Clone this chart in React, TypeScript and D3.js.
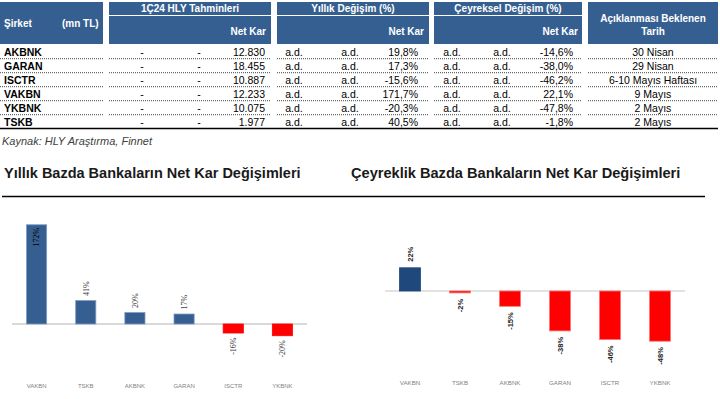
import React from "react";
import * as d3 from "d3";

const companies = ["AKBNK", "GARAN", "ISCTR", "VAKBN", "YKBNK", "TSKB"];
const hlyA = ["-", "-", "-", "-", "-", "-"];
const hlyB = ["-", "-", "-", "-", "-", "-"];
const netKar = ["12.830", "18.455", "10.887", "12.233", "10.075", "1.977"];
const yillikA = ["a.d.", "a.d.", "a.d.", "a.d.", "a.d.", "a.d."];
const yillikB = ["a.d.", "a.d.", "a.d.", "a.d.", "a.d.", "a.d."];
const yillikNet = ["19,8%", "17,3%", "-15,6%", "171,7%", "-20,3%", "40,5%"];
const ceyA = ["a.d.", "a.d.", "a.d.", "a.d.", "a.d.", "a.d."];
const ceyB = ["a.d.", "a.d.", "a.d.", "a.d.", "a.d.", "a.d."];
const ceyNet = ["-14,6%", "-38,0%", "-46,2%", "22,1%", "-47,8%", "-1,8%"];
const tarih = ["30 Nisan", "29 Nisan", "6-10 Mayıs Haftası", "9 Mayıs", "2 Mayıs", "2 Mayıs"];

const yearCats = ["VAKBN", "TSKB", "AKBNK", "GARAN", "ISCTR", "YKBNK"];
const yearVals = [171.7, 40.5, 19.8, 17.3, -15.6, -20.3];
const quarterCats = ["VAKBN", "TSKB", "AKBNK", "GARAN", "ISCTR", "YKBNK"];
const quarterVals = [22.1, -1.8, -14.6, -38.0, -46.2, -47.8];

const HEADER = "#365F91";
const SANS = "Liberation Sans, Arial, sans-serif";
const SERIF = "Liberation Serif, Times New Roman, serif";

const groups = [
  { x0: 0, x1: 103 },
  { x0: 109, x1: 271, title: "1Ç24 HLY Tahminleri" },
  { x0: 277, x1: 429, title: "Yıllık Değişim (%)" },
  { x0: 434, x1: 582, title: "Çeyreksel Değişim (%)" },
  { x0: 588, x1: 718 },
];

function Table() {
  const rowTop = 44.7;
  const rowH = 14;
  const fs = 10.5;
  const rows = companies.map((c, i) => {
    const y = rowTop + i * rowH + 11;
    return (
      <g key={c}>
        <text x={4} y={y} fontWeight="bold" fontSize={fs}>{c}</text>
        <text x={142} y={y} textAnchor="middle" fontSize={fs}>{hlyA[i]}</text>
        <text x={199} y={y} textAnchor="middle" fontSize={fs}>{hlyB[i]}</text>
        <text x={265} y={y} textAnchor="end" fontSize={fs}>{netKar[i]}</text>
        <text x={294} y={y} textAnchor="middle" fontSize={fs}>{yillikA[i]}</text>
        <text x={350} y={y} textAnchor="middle" fontSize={fs}>{yillikB[i]}</text>
        <text x={418} y={y} textAnchor="end" fontSize={fs}>{yillikNet[i]}</text>
        <text x={452} y={y} textAnchor="middle" fontSize={fs}>{ceyA[i]}</text>
        <text x={502} y={y} textAnchor="middle" fontSize={fs}>{ceyB[i]}</text>
        <text x={573} y={y} textAnchor="end" fontSize={fs}>{ceyNet[i]}</text>
        <text x={653} y={y} textAnchor="middle" fontSize={fs}>{tarih[i]}</text>
        {i < companies.length - 1 &&
          groups.map((g, k) => (
            <line key={k} x1={g.x0} x2={g.x1} y1={rowTop + (i + 1) * rowH} y2={rowTop + (i + 1) * rowH}
              stroke="#444" strokeWidth={1} strokeDasharray="1,1" />
          ))}
      </g>
    );
  });
  return (
    <g fontFamily={SANS} fill="#000">
      {groups.map((g, k) => (
        <rect key={k} x={g.x0} y={2} width={g.x1 - g.x0} height={42} fill={HEADER} />
      ))}
      {groups.filter((g) => g.title).map((g, k) => (
        <g key={k}>
          <line x1={g.x0} x2={g.x1} y1={15.5} y2={15.5} stroke="#fff" strokeWidth={1} />
          <text x={(g.x0 + g.x1) / 2} y={12} textAnchor="middle" fill="#fff" fontWeight="bold" fontSize={10}>{g.title}</text>
        </g>
      ))}
      <text x={4} y={27} fill="#fff" fontWeight="bold" fontSize={10}>Şirket</text>
      <text x={62} y={27} fill="#fff" fontWeight="bold" fontSize={10}>(mn TL)</text>
      <text x={266} y={35} textAnchor="end" fill="#fff" fontWeight="bold" fontSize={10}>Net Kar</text>
      <text x={424} y={35} textAnchor="end" fill="#fff" fontWeight="bold" fontSize={10}>Net Kar</text>
      <text x={578} y={35} textAnchor="end" fill="#fff" fontWeight="bold" fontSize={10}>Net Kar</text>
      <text x={653} y={22} textAnchor="middle" fill="#fff" fontWeight="bold" fontSize={10}>Açıklanması Beklenen</text>
      <text x={653} y={35} textAnchor="middle" fill="#fff" fontWeight="bold" fontSize={10}>Tarih</text>
      {rows}
      <line x1={0} x2={718} y1={128.5} y2={128.5} stroke="#000" strokeWidth={1.5} />
      <text x={2} y={145} fontStyle="italic" fontSize={11} fill="#404040">Kaynak: HLY Araştırma, Finnet</text>
    </g>
  );
}

type ChartProps = {
  cats: string[];
  vals: number[];
  x0: number;
  x1: number;
  y0: number;
  pxPer: number;
  padInner: number;
  posColor: string;
  posStroke: string;
  negStroke: string;
  plotTop: number;
  labelFont: string;
  labelSize: number;
  labelWeight: string;
  labelGap: number;
  labelColor: string;
  catY: number;
  catSize: number;
  baseW: number;
  fmt: (v: number) => string;
};

function BarChart(p: ChartProps) {
  const x = d3.scaleBand<string>().domain(p.cats).range([p.x0, p.x1]).paddingInner(p.padInner).paddingOuter(p.padInner / 2);
  const y = d3.scaleLinear().domain([0, 100]).range([p.y0, p.y0 - 100 * p.pxPer]);
  const approxLen = (s: string) => s.length * p.labelSize * 0.58;
  return (
    <g>
      <line x1={p.x0} x2={p.x1} y1={p.y0} y2={p.y0} stroke="#D9D9D9" strokeWidth={p.baseW} />
      {p.cats.map((c, i) => {
        const v = p.vals[i];
        const bx = x(c)!;
        const bw = x.bandwidth();
        const top = Math.min(y(v), y(0));
        const h = Math.abs(y(v) - y(0));
        const pos = v >= 0;
        const cx = bx + bw / 2;
        const label = p.fmt(v);
        let ly: number;
        let anchor: string;
        let inside = false;
        if (pos) {
          if (top - p.labelGap - approxLen(label) < p.plotTop) {
            ly = top + 3;
            anchor = "end";
            inside = true;
          } else {
            ly = top - p.labelGap;
            anchor = "start";
          }
        } else {
          ly = top + h + p.labelGap;
          anchor = "end";
        }
        return (
          <g key={c}>
            <rect x={bx} y={top} width={bw} height={Math.max(h, 1)}
              fill={pos ? p.posColor : "#FF0000"}
              stroke={pos ? p.posStroke : p.negStroke} strokeWidth={0.8} />
            <text transform={`translate(${cx},${ly}) rotate(-90)`} dy="0.35em" textAnchor={anchor}
              fontFamily={p.labelFont} fontSize={p.labelSize} fontWeight={p.labelWeight}
              fill={inside ? "#000" : p.labelColor}>{label}</text>
            <text x={cx} y={p.catY} textAnchor="middle" fontFamily={SANS} fontSize={p.catSize} fill="#7F7F7F">{c}</text>
          </g>
        );
      })}
    </g>
  );
}

export default function App() {
  const fmt = (v: number) => `${Math.round(v)}%`;
  return (
    <svg width={720} height={399} style={{ position: "fixed", left: 0, top: 0, background: "#fff" }}
      xmlns="http://www.w3.org/2000/svg">
      <rect width={720} height={399} fill="#fff" />
      <Table />
      <text x={4} y={178} fontFamily={SANS} fontWeight="bold" fontSize={14.5} fill="#1a1a1a">Yıllık Bazda Bankaların Net Kar Değişimleri</text>
      <text x={351} y={178} fontFamily={SANS} fontWeight="bold" fontSize={14.6} fill="#1a1a1a">Çeyreklik Bazda Bankaların Net Kar Değişimleri</text>
      <line x1={2} x2={705} y1={196.5} y2={196.5} stroke="#000" strokeWidth={1.5} />
      <BarChart cats={yearCats} vals={yearVals} x0={12} x1={307} y0={324} pxPer={0.578} padInner={0.59}
        posColor="#365F91" posStroke="#7F9CC4" negStroke="#FF0000" plotTop={215}
        labelFont={SERIF} labelSize={8} labelWeight="normal" labelGap={4.5} labelColor="#404040"
        catY={388} catSize={6} baseW={2} fmt={fmt} />
      <BarChart cats={quarterCats} vals={quarterVals} x0={385} x1={685} y0={291} pxPer={1.05} padInner={0.58}
        posColor="#1F497D" posStroke="#1F497D" negStroke="#FF7373" plotTop={215}
        labelFont={SANS} labelSize={7.5} labelWeight="bold" labelGap={6} labelColor="#262626"
        catY={385} catSize={6.2} baseW={1.5} fmt={fmt} />
    </svg>
  );
}
